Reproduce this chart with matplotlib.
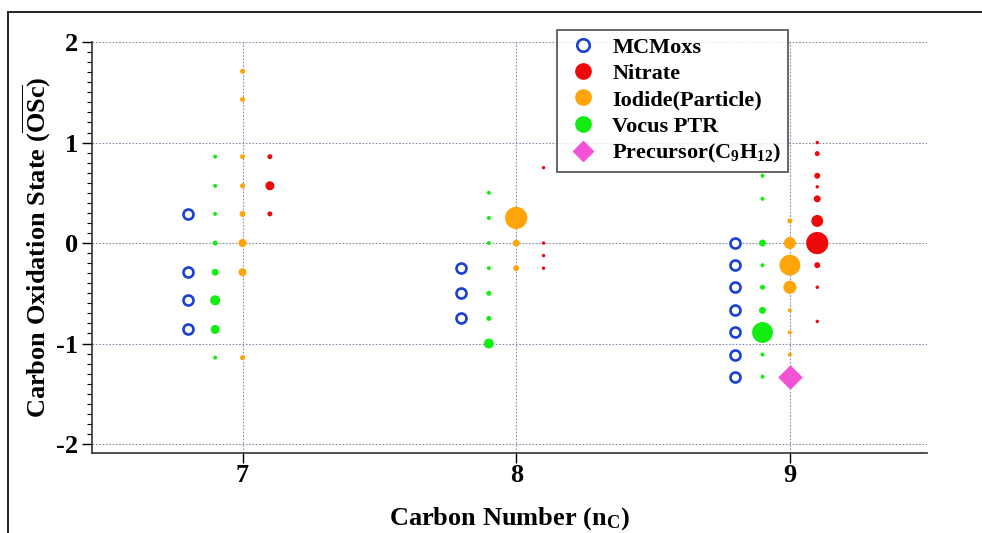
import matplotlib
matplotlib.use("Agg")
import matplotlib.pyplot as plt
from matplotlib.lines import Line2D

plt.rcParams["font.family"] = ["Liberation Serif", "DejaVu Serif"]
plt.rcParams["font.weight"] = "bold"
plt.rcParams["axes.unicode_minus"] = False
plt.rcParams["mathtext.fontset"] = "custom"
plt.rcParams["mathtext.rm"] = "Liberation Serif:bold"
plt.rcParams["mathtext.bf"] = "Liberation Serif:bold"
plt.rcParams["mathtext.it"] = "Liberation Serif:bold"

# --- data: carbon number, oxidation state, marker diameter [pt] ---
mcm_nc = [7, 7, 7, 7, 8, 8, 8, 9, 9, 9, 9, 9, 9, 9]
mcm_osc = [0.29, -0.29, -0.57, -0.86, -0.25, -0.50, -0.75,
           0.0, -0.22, -0.44, -0.67, -0.89, -1.11, -1.33]

nitrate_nc = [7, 7, 7, 8, 8, 8, 8, 9, 9, 9, 9, 9, 9, 9, 9, 9, 9]
nitrate_osc = [0.86, 0.57, 0.29, 0.75, 0.0, -0.125, -0.25,
               1.0, 0.89, 0.67, 0.56, 0.44, 0.22, 0.0, -0.22, -0.44, -0.78]
nitrate_size = [3.6, 6.5, 3.6, 2.5, 2.5, 2.5, 2.5,
                2.5, 3.6, 4.3, 2.5, 5.0, 8.6, 16.0, 4.3, 2.5, 2.5]

iodide_nc = [7, 7, 7, 7, 7, 7, 7, 7, 8, 8, 8, 9, 9, 9, 9, 9, 9, 9]
iodide_osc = [1.71, 1.43, 0.86, 0.57, 0.29, 0.0, -0.29, -1.14,
              0.25, 0.0, -0.25,
              0.22, 0.0, -0.22, -0.44, -0.67, -0.89, -1.11]
iodide_size = [3.6, 3.6, 3.6, 3.6, 4.3, 5.8, 5.8, 3.6,
               16.0, 5.0, 4.3,
               3.6, 8.6, 15.0, 9.4, 2.9, 2.9, 2.9]

vocus_nc = [7, 7, 7, 7, 7, 7, 7, 7, 8, 8, 8, 8, 8, 8, 8,
            9, 9, 9, 9, 9, 9, 9, 9, 9]
vocus_osc = [0.86, 0.57, 0.29, 0.0, -0.29, -0.57, -0.86, -1.14,
             0.5, 0.25, 0.0, -0.25, -0.5, -0.75, -1.0,
             0.67, 0.44, 0.0, -0.22, -0.44, -0.67, -0.89, -1.11, -1.33]
vocus_size = [2.9, 2.9, 2.9, 3.6, 5.0, 7.2, 6.5, 2.9,
              2.9, 2.9, 2.9, 2.9, 3.6, 3.6, 7.2,
              2.9, 2.9, 5.0, 2.9, 3.6, 5.0, 15.0, 2.9, 2.9]

precursor_nc = [9]
precursor_osc = [-1.33]

C_BLUE = "#1a40d4"
C_RED = "#ee0a0a"
C_ORANGE = "#ffa50a"
C_GREEN = "#12ee12"
C_PINK = "#f352d6"

fig = plt.figure(figsize=(9.82, 5.33), dpi=100)
ax = fig.add_axes([0.0937, 0.150, 0.850, 0.771])

ax.grid(True, color="#8a8aa8", ls=(0, (1.5, 1.5)), lw=0.8)
ax.set_axisbelow(True)

ax.scatter([n - 0.2 for n in mcm_nc], mcm_osc, s=7.2 ** 2, facecolors="white",
           edgecolors=C_BLUE, linewidths=1.9, zorder=3)
ax.scatter([n - 0.1 for n in vocus_nc], vocus_osc, s=[d ** 2 for d in vocus_size],
           color=C_GREEN, lw=0, zorder=3)
ax.scatter(iodide_nc, iodide_osc, s=[d ** 2 for d in iodide_size],
           color=C_ORANGE, lw=0, zorder=3)
ax.scatter([n + 0.1 for n in nitrate_nc], nitrate_osc, s=[d ** 2 for d in nitrate_size],
           color=C_RED, lw=0, zorder=3)
ax.scatter(precursor_nc, precursor_osc, s=12.5 ** 2, marker="D",
           color=C_PINK, lw=0, zorder=4)

ax.set_xlim(6.45, 9.5)
ax.set_ylim(-2.09, 2.0)
ax.set_xticks([7, 8, 9])
ax.set_yticks([-2, -1, 0, 1, 2])
ax.set_yticks([i / 10 for i in range(-20, 21)], minor=True)
ax.tick_params(axis="both", which="major", direction="out", length=7, width=1,
               labelsize=19, pad=3)
ax.tick_params(axis="y", which="minor", direction="out", length=3.5, width=0.8)
for lab in ax.get_xticklabels() + ax.get_yticklabels():
    lab.set_fontweight("bold")
ax.tick_params(axis="x", pad=1)
for side in ("top", "right"):
    ax.spines[side].set_visible(False)
for side in ("left", "bottom"):
    ax.spines[side].set_color("#333333")
    ax.spines[side].set_linewidth(1.2)

ax.set_xlabel(r"Carbon Number (n$_{\mathrm{C}}$)", fontsize=19, fontweight="bold",
              labelpad=13)
ax.set_ylabel(r"Carbon Oxidation State ($\overline{\mathrm{OSc}}$)", fontsize=19,
              fontweight="bold", labelpad=2)

handles = [
    Line2D([], [], ls="none", marker="o", ms=9, mfc="white", mec=C_BLUE, mew=1.9),
    Line2D([], [], ls="none", marker="o", ms=11, color=C_RED),
    Line2D([], [], ls="none", marker="o", ms=11, color=C_ORANGE),
    Line2D([], [], ls="none", marker="o", ms=11, color=C_GREEN),
    Line2D([], [], ls="none", marker="D", ms=10, color=C_PINK),
]
labels = ["MCMoxs", "Nitrate", "Iodide(Particle)", "Vocus PTR",
          r"Precursor(C$_9$H$_{12}$)"]
leg = fig.legend(handles, labels, loc="upper left", bbox_to_anchor=(0.567, 0.943),
                 borderaxespad=0, frameon=True, fancybox=False, edgecolor="#333333",
                 prop={"family": "Liberation Serif", "weight": "bold", "size": 16},
                 handletextpad=0.4, labelspacing=0.26, borderpad=0.3,
                 handlelength=1.8)
leg.get_frame().set_linewidth(1.3)

# partial outer frame (left and top)
y_top = 1 - 12 / 533
x_left = 8 / 982
fig.add_artist(Line2D([x_left, x_left], [0, y_top], color="#222222", lw=1.4,
                      transform=fig.transFigure))
fig.add_artist(Line2D([x_left, 1], [y_top, y_top], color="#222222", lw=1.4,
                      transform=fig.transFigure))

fig.savefig("out.png", dpi=100)
